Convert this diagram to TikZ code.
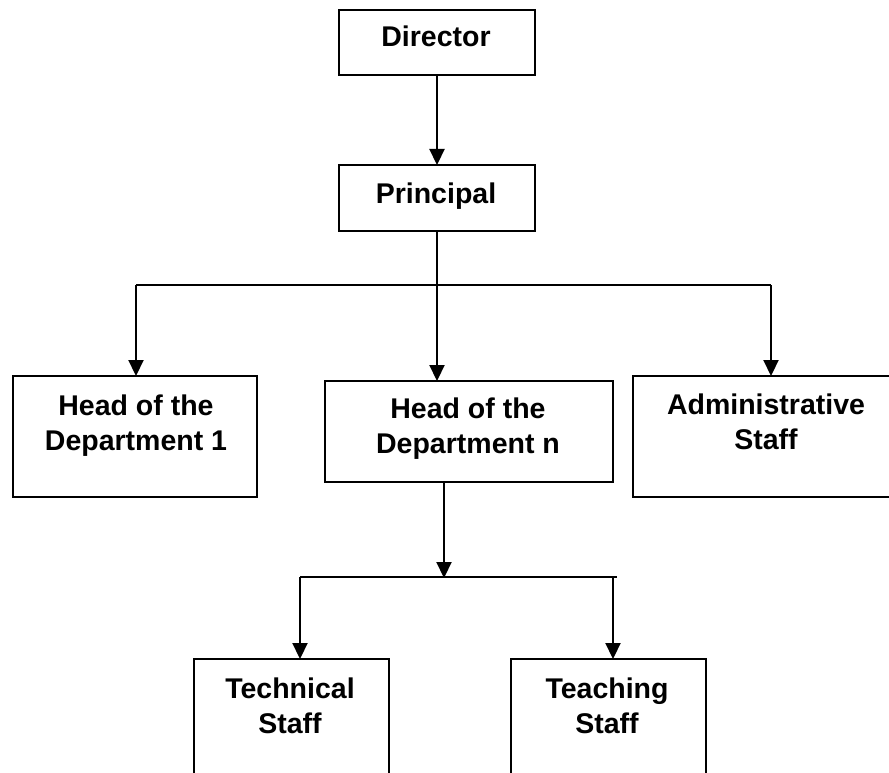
\documentclass[tikz,border=0pt]{standalone}
\usepackage{fontspec}
\setmainfont{Liberation Sans}
\usetikzlibrary{arrows.meta}
\tikzset{
  box/.style={draw=black, line width=2.2pt, rectangle, anchor=north west, inner sep=0pt},
  lbl/.style={font=\bfseries\fontsize{28.5}{35}\selectfont, align=center, inner sep=0pt, anchor=base},
  conn/.style={line width=2.2pt},
  arr/.style={line width=2.2pt, -{Triangle[length=16pt,width=15pt]}, shorten >=-1pt}
}
\begin{document}
\begin{tikzpicture}[x=1pt,y=-1pt]
\useasboundingbox (0,0) rectangle (889,773);
\fill[white] (0,0) rectangle (889,773);
\clip (0,0) rectangle (889,773);
% boxes
\node[box, minimum width=196pt, minimum height=65pt] (dir) at (338,9) {};
\node[box, minimum width=196pt, minimum height=66pt] (pri) at (338,164) {};
\node[box, minimum width=244pt, minimum height=121pt] (hod1) at (12,375) {};
\node[box, minimum width=288pt, minimum height=101pt] (hodn) at (324,380) {};
\node[box, minimum width=270pt, minimum height=121pt] (adm) at (632,375) {};
\node[box, minimum width=195pt, minimum height=150pt] (tech) at (193,658) {};
\node[box, minimum width=195pt, minimum height=150pt] (teach) at (510,658) {};
% labels (base anchor = baseline of the last line)
\node[lbl] (dirT) at (436,47) {Director};
\node[lbl] (priT) at (436,203) {Principal};
\node[lbl] (hod1T) at (136,450) {Head of the\\Department 1};
\node[lbl] (hodnT) at (468,453) {Head of the\\Department n};
\node[lbl] (admT) at (766,449) {Administrative\\Staff};
\node[lbl] (techT) at (290,733) {Technical\\Staff};
\node[lbl] (teachT) at (607,733) {Teaching\\Staff};
% junction coordinates
\coordinate (pd) at (437,230);
\coordinate (hl) at (136,285);
\coordinate (hr) at (771,285);
\coordinate (hd) at (444,481);
\coordinate (bl) at (300,577);
\coordinate (bm) at (444,577);
\coordinate (br) at (613,577);
\coordinate (be) at (617,577);
% connectors
\draw[arr] (dir.south -| pd) -- (pri.north -| pd);
\draw[arr] (pd) -- (pd |- hodn.north);
\draw[conn] (hl) -- (hr);
\draw[arr] (hl) -- (hl |- hod1.north);
\draw[arr] (hr) -- (hr |- adm.north);
\draw[arr] (hd) -- (bm);
\draw[conn] (bl) -- (be);
\draw[arr] (bl) -- (bl |- tech.north);
\draw[arr] (br) -- (br |- teach.north);
\end{tikzpicture}
\end{document}
